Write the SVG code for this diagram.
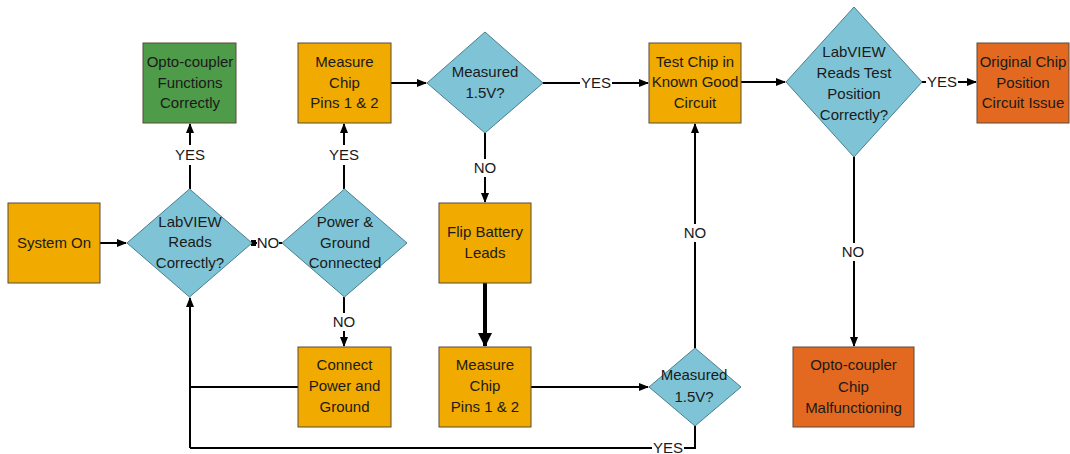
<svg xmlns="http://www.w3.org/2000/svg" width="1070" height="454" viewBox="0 0 1070 454">
<style>
text{font-family:"Liberation Sans",Arial,sans-serif;font-size:15px;fill:#1a1a1a;text-anchor:middle}
.box{stroke:#5a4a3a;stroke-width:1}
.or{fill:#F0AA00}
.gr{fill:#4E9B49}
.dk{fill:#E2691F}
.dia{fill:#7EC4D6;stroke:#4a7f8e;stroke-width:1}
.ln{fill:none;stroke:#000;stroke-width:2}
.thick{fill:none;stroke:#000;stroke-width:4}
.lbg{fill:#fff}
</style>
<defs>
<marker id="ah" markerWidth="10" markerHeight="10" refX="9" refY="5" orient="auto" markerUnits="userSpaceOnUse"><path d="M0,1 L10,5 L0,9 Z" fill="#000"/></marker>
<marker id="ahb" markerWidth="14" markerHeight="14" refX="13" refY="7" orient="auto" markerUnits="userSpaceOnUse"><path d="M0,0 L14,7 L0,14 Z" fill="#000"/></marker>
</defs>
<rect width="1070" height="454" fill="#fff"/>
<g id="connectors">
<path class="ln" d="M100,243 H126" marker-end="url(#ah)"/>
<path class="ln" d="M190,189 V124" marker-end="url(#ah)"/>
<path class="ln" d="M253,243 H282"/>
<rect x="251" y="240" width="5" height="6" fill="#000"/>
<path class="ln" d="M344,189 V124" marker-end="url(#ah)"/>
<path class="ln" d="M344,297 V346" marker-end="url(#ah)"/>
<path class="ln" d="M298,387 H190"/>
<path class="ln" d="M190,448 V298" marker-end="url(#ah)"/>
<path class="ln" d="M695,426 V448 H190"/>
<path class="ln" d="M391,83 H426" marker-end="url(#ah)"/>
<path class="ln" d="M543,83 H648" marker-end="url(#ah)"/>
<path class="ln" d="M485,133 V202" marker-end="url(#ah)"/>
<path class="thick" d="M485,283 V346" marker-end="url(#ahb)"/>
<path class="ln" d="M531,387 H648" marker-end="url(#ah)"/>
<path class="ln" d="M695,348 V124" marker-end="url(#ah)"/>
<path class="ln" d="M741,82 H785" marker-end="url(#ah)"/>
<path class="ln" d="M922,82 H976" marker-end="url(#ah)"/>
<path class="ln" d="M854,157 V346" marker-end="url(#ah)"/>
<rect class="lbg" x="173" y="145" width="34" height="20"/><text x="190" y="160">YES</text>
<rect class="lbg" x="327" y="145" width="34" height="20"/><text x="344" y="160">YES</text>
<rect class="lbg" x="257" y="234" width="22" height="18"/><text x="268" y="248">NO</text>
<rect class="lbg" x="333" y="313" width="22" height="18"/><text x="344" y="327">NO</text>
<rect class="lbg" x="474" y="159" width="22" height="18"/><text x="485" y="173">NO</text>
<rect class="lbg" x="580" y="74" width="32" height="18"/><text x="596" y="88">YES</text>
<rect class="lbg" x="684" y="224" width="22" height="18"/><text x="695" y="238">NO</text>
<rect class="lbg" x="652" y="439" width="32" height="15"/><text x="668" y="453">YES</text>
<rect class="lbg" x="926" y="73" width="32" height="18"/><text x="942" y="87">YES</text>
<rect class="lbg" x="842" y="243" width="22" height="18"/><text x="853" y="257">NO</text>
</g>
<g id="n_system_on"><rect class="box or" x="8" y="203" width="92" height="80"/><text x="54" y="248">System On</text></g>
<g id="n_labview"><polygon class="dia" points="189.5,189 252,243 189.5,297 127,243"/><text x="190" y="227">LabVIEW</text><text x="190" y="247">Reads</text><text x="190" y="268">Correctly?</text></g>
<g id="n_opto_ok"><rect class="box gr" x="143" y="43" width="93" height="80"/><text x="190" y="67">Opto-coupler</text><text x="190" y="88">Functions</text><text x="190" y="108">Correctly</text></g>
<g id="n_power"><polygon class="dia" points="344.5,189 407,243 344.5,297 282,243"/><text x="345" y="227">Power &amp;</text><text x="345" y="248">Ground</text><text x="345" y="268">Connected</text></g>
<g id="n_measure1"><rect class="box or" x="298" y="43" width="93" height="80"/><text x="344.5" y="67">Measure</text><text x="344.5" y="88">Chip</text><text x="344.5" y="108">Pins 1 &amp; 2</text></g>
<g id="n_connect"><rect class="box or" x="298" y="347" width="93" height="80"/><text x="344.5" y="370">Connect</text><text x="344.5" y="391">Power and</text><text x="344.5" y="412">Ground</text></g>
<g id="n_measured1"><polygon class="dia" points="485,32 543,83 485,133 427,83"/><text x="485" y="77">Measured</text><text x="485" y="98">1.5V?</text></g>
<g id="n_flip"><rect class="box or" x="439" y="203" width="92" height="80"/><text x="485" y="237">Flip Battery</text><text x="485" y="258">Leads</text></g>
<g id="n_measure2"><rect class="box or" x="439" y="347" width="92" height="80"/><text x="485" y="370">Measure</text><text x="485" y="391">Chip</text><text x="485" y="412">Pins 1 &amp; 2</text></g>
<g id="n_measured2"><polygon class="dia" points="695,348 741,387 695,426 649,387"/><text x="694" y="380">Measured</text><text x="694" y="402">1.5V?</text></g>
<g id="n_testchip"><rect class="box or" x="649" y="43" width="92" height="80"/><text x="695" y="67">Test Chip in</text><text x="695" y="87">Known Good</text><text x="695" y="108">Circuit</text></g>
<g id="n_labview_test"><polygon class="dia" points="854,7 922,82 854,157 786,82"/><text x="854" y="57">LabVIEW</text><text x="854" y="78">Reads Test</text><text x="854" y="99">Position</text><text x="854" y="120">Correctly?</text></g>
<g id="n_original"><rect class="box dk" x="977" y="43" width="92" height="80"/><text x="1023" y="67">Original Chip</text><text x="1023" y="88">Position</text><text x="1023" y="108">Circuit Issue</text></g>
<g id="n_opto_bad"><rect class="box dk" x="793" y="347" width="121" height="80"/><text x="853.5" y="370">Opto-coupler</text><text x="853.5" y="392">Chip</text><text x="853.5" y="413">Malfunctioning</text></g>
</svg>
